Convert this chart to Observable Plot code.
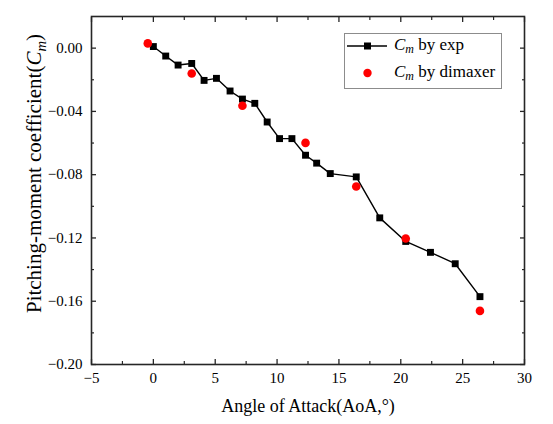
<!DOCTYPE html>
<html>
<head>
<meta charset="utf-8">
<script src="https://cdn.jsdelivr.net/npm/d3@7"></script>
<script src="https://cdn.jsdelivr.net/npm/@observablehq/plot@0.6"></script>
<style>
  body { margin: 0; background: #fff; }
  #wrap { position: relative; width: 553px; height: 424px; font-family: "Liberation Serif", "Times New Roman", serif; }
  #legend { position: absolute; left: 344px; top: 33px; width: 158px; height: 56px; box-sizing: border-box;
            border: 1px solid #8c8c8c; background: #fff; font-size: 17px; color: #000; }
  .row { position: absolute; left: 0; height: 24px; display: flex; align-items: center; }
  .row svg { display: block; }
  .row span { margin-left: 6px; white-space: nowrap; }
  sub { font-size: 0.7em; vertical-align: -0.25em; }
</style>
</head>
<body>
<div id="wrap">
  <div id="chart"></div>
  <div id="legend">
    <div class="row" style="top:0px">
      <svg width="43" height="24"><line x1="2" x2="42" y1="12" y2="12" stroke="#000" stroke-width="1.5"/><rect x="19" y="8.5" width="7" height="7" fill="#000"/></svg>
      <span><i>C</i><sub><i>m</i></sub> by exp</span>
    </div>
    <div class="row" style="top:27px">
      <svg width="43" height="24"><circle cx="22.5" cy="12" r="4.2" fill="#ff0000"/></svg>
      <span><i>C</i><sub><i>m</i></sub> by dimaxer</span>
    </div>
  </div>
</div>
<script>
// Pitching-moment coefficient vs angle of attack: experiment and dimaxer prediction
const aoaExp = [0, 1, 2, 3.1, 4.1, 5.1, 6.2, 7.2, 8.2, 9.2, 10.2, 11.2, 12.3, 13.2, 14.3, 16.4, 18.3, 20.4, 22.4, 24.4, 26.4];
const cmExp  = [0.001, -0.005, -0.0107, -0.0097, -0.0204, -0.0191, -0.0271, -0.0322, -0.0349, -0.0467, -0.0572,
                -0.0572, -0.0677, -0.0727, -0.0793, -0.0814, -0.1073, -0.1222, -0.1291, -0.1363, -0.1571];
const aoaDim = [-0.45, 3.1, 7.2, 12.3, 16.4, 20.4, 26.4];
const cmDim  = [0.003, -0.016, -0.0364, -0.0599, -0.0875, -0.1203, -0.1661];

const xMajor = [-5, 0, 5, 10, 15, 20, 25, 30];
const xMinor = [-2.5, 2.5, 7.5, 12.5, 17.5, 22.5, 27.5];
const yMajor = [0, -0.04, -0.08, -0.12, -0.16, -0.20];
const yMinor = [-0.02, -0.06, -0.10, -0.14, -0.18];

const xTitle = "Angle of Attack(AoA,°)";
const yTitle = "Pitching-moment coefficient(Cm)";

const exp = aoaExp.map((x, i) => ({x, y: cmExp[i]}));
const dim = aoaDim.map((x, i) => ({x, y: cmDim[i]}));

const axisColor = "#262626";
const serif = "Liberation Serif";
const fmt = d3.format(".2f");
const blank = () => "";
const tickText = { fill: "#000", fontFamily: serif, fontSize: 15, fontVariant: "normal" };

const chart = Plot.plot({
  width: 553,
  height: 424,
  marginLeft: 91,
  marginRight: 29,
  marginTop: 16,
  marginBottom: 60,
  style: { fontFamily: serif, fontSize: "15px", color: "#000", background: "#fff" },
  x: { domain: [-5, 30] },
  y: { domain: [-0.20, 0.02] },
  marks: [
    // bottom & left axes with inward ticks
    Plot.axisX({ ticks: xMajor, tickSize: -5, tickPadding: 13, label: null, stroke: axisColor, strokeWidth: 1.3, ...tickText }),
    Plot.axisX({ ticks: xMinor, tickSize: -3, tickFormat: blank, label: null, stroke: axisColor, strokeWidth: 1.2 }),
    Plot.axisY({ ticks: yMajor, tickSize: -5, tickPadding: 14, tickFormat: fmt, label: null, stroke: axisColor, strokeWidth: 1.3, ...tickText }),
    Plot.axisY({ ticks: yMinor, tickSize: -3, tickFormat: blank, label: null, stroke: axisColor, strokeWidth: 1.2 }),
    // mirrored ticks on top & right
    Plot.axisX({ anchor: "top", ticks: xMajor, tickSize: -5, tickFormat: blank, label: null, stroke: axisColor, strokeWidth: 1.3 }),
    Plot.axisX({ anchor: "top", ticks: xMinor, tickSize: -3, tickFormat: blank, label: null, stroke: axisColor, strokeWidth: 1.2 }),
    Plot.axisY({ anchor: "right", ticks: yMajor, tickSize: -5, tickFormat: blank, label: null, stroke: axisColor, strokeWidth: 1.3 }),
    Plot.axisY({ anchor: "right", ticks: yMinor, tickSize: -3, tickFormat: blank, label: null, stroke: axisColor, strokeWidth: 1.2 }),
    Plot.frame({ stroke: axisColor, strokeWidth: 1.6 }),
    // experiment: line with square markers
    Plot.line(exp, { x: "x", y: "y", stroke: "#000", strokeWidth: 1.4 }),
    Plot.dot(exp, { x: "x", y: "y", symbol: "square", r: 3.9, fill: "#000", stroke: "none" }),
    // dimaxer prediction: red dots
    Plot.dot(dim, { x: "x", y: "y", r: 4.3, fill: "#ff0000", stroke: "none" }),
    // axis titles
    Plot.text([xTitle], { frameAnchor: "bottom", dy: 47, fontSize: 18, fontFamily: serif, fill: "#000" }),
    Plot.text([yTitle], { frameAnchor: "left", textAnchor: "middle", dx: -57, dy: -17, rotate: -90, fontSize: 21, fontFamily: serif, fill: "#000", className: "ytitle" })
  ]
});

document.getElementById("chart").appendChild(chart);

// serif face for every label, set inline on each text node and its group
d3.select(chart).selectAll("g, text")
  .style("font-family", '"Liberation Serif", "Times New Roman", serif')
  .style("font-variant", "normal");

// italic C with subscript m in the y-axis title
d3.select(chart).selectAll("g.ytitle text").each(function () {
  const t = d3.select(this);
  t.text(null);
  t.append("tspan").text("Pitching-moment coefficient(");
  t.append("tspan").attr("font-style", "italic").text("C");
  t.append("tspan").attr("font-style", "italic").attr("font-size", "0.7em").attr("dy", "0.3em").text("m");
  t.append("tspan").attr("dy", "-0.21em").text(")");
});
</script>
</body>
</html>
